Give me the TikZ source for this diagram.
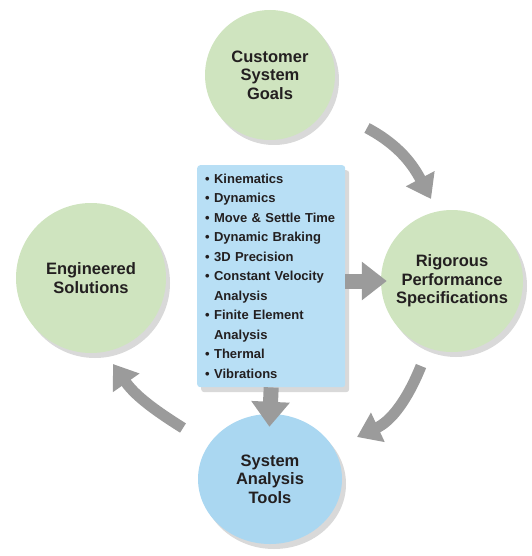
\documentclass[tikz,border=0pt]{standalone}
\usepackage{fontspec}
\setmainfont{Liberation Sans}
\usetikzlibrary{arrows.meta,shadows,shapes.geometric}

\definecolor{goalgreen}{RGB}{207,228,191}
\definecolor{toolblue}{RGB}{170,215,241}
\definecolor{listblue}{RGB}{184,223,245}
\definecolor{flowgray}{RGB}{155,155,155}
\definecolor{inkdark}{RGB}{35,31,32}

\tikzset{
  bubble/.style={circle, fill=goalgreen, inner sep=0pt, align=center, text=inkdark,
    font=\fontsize{16.5}{18.5}\selectfont\bfseries,
    drop shadow={shadow xshift=4pt, shadow yshift=-5pt, opacity=0.3}},
  listbox/.style={rectangle, rounded corners=3pt, fill=listblue, text=inkdark,
    text width=132pt, inner xsep=8pt, minimum height=222pt, align=left,
    font=\fontsize{13}{19.5}\selectfont\bfseries,
    drop shadow={shadow xshift=4pt, shadow yshift=-5pt, opacity=0.3}},
  flow/.style={draw=flowgray, line width=11pt, -{Triangle[width=31pt,length=23pt]}},
  bigflow/.style={draw=flowgray, line width=15pt, -{Triangle[width=37pt,length=25pt]}}
}

\begin{document}
\begin{tikzpicture}[x=1pt,y=1pt]
\useasboundingbox (0,0) rectangle (531,-556);
% the four stages
\node[bubble, minimum size=130pt] (goals) at (270,-75) {Customer\\System\\Goals};
\node[bubble, minimum size=142pt] (specs) at (452,-281) {Rigorous\\Performance\\Specifications};
\node[bubble, ellipse, fill=toolblue, minimum width=144pt, minimum height=130pt] (tools) at (270,-479) {System\\Analysis\\Tools};
\node[bubble, minimum size=150pt] (solutions) at (91,-278) {Engineered\\Solutions};
% list of analyses
\node[listbox, anchor=north west] (methods) at (197,-165) {%
\textbullet\ Kinematics\\
\textbullet\ Dynamics\\
\mbox{\textbullet\ Move \& Settle Time}\\
\textbullet\ Dynamic Braking\\
\textbullet\ 3D Precision\\
\mbox{\textbullet\ Constant Velocity}\\
\phantom{\textbullet\ }Analysis\\
\textbullet\ Finite Element\\
\phantom{\textbullet\ }Analysis\\
\textbullet\ Thermal\\
\textbullet\ Vibrations};
% loop arrows
\coordinate (goalsout) at (367,-128);
\coordinate (specsin) at (431,-199);
\coordinate (specsout) at (421,-366);
\coordinate (toolsin) at (357,-437);
\coordinate (toolsout) at (183,-428);
\coordinate (solutionsin) at (113,-364);
\draw[flow] (goalsout) to[out=-28,in=118] (specsin);
\draw[flow] (specsout) to[out=-112,in=25] (toolsin);
\draw[flow] (toolsout) to[out=148,in=-55] (solutionsin);
\draw[bigflow, shorten >=-6pt] (methods.east |- specs) -- (specs.west);
\draw[bigflow, shorten >=-13pt] (methods.south) -- (tools.north);
\end{tikzpicture}
\end{document}
